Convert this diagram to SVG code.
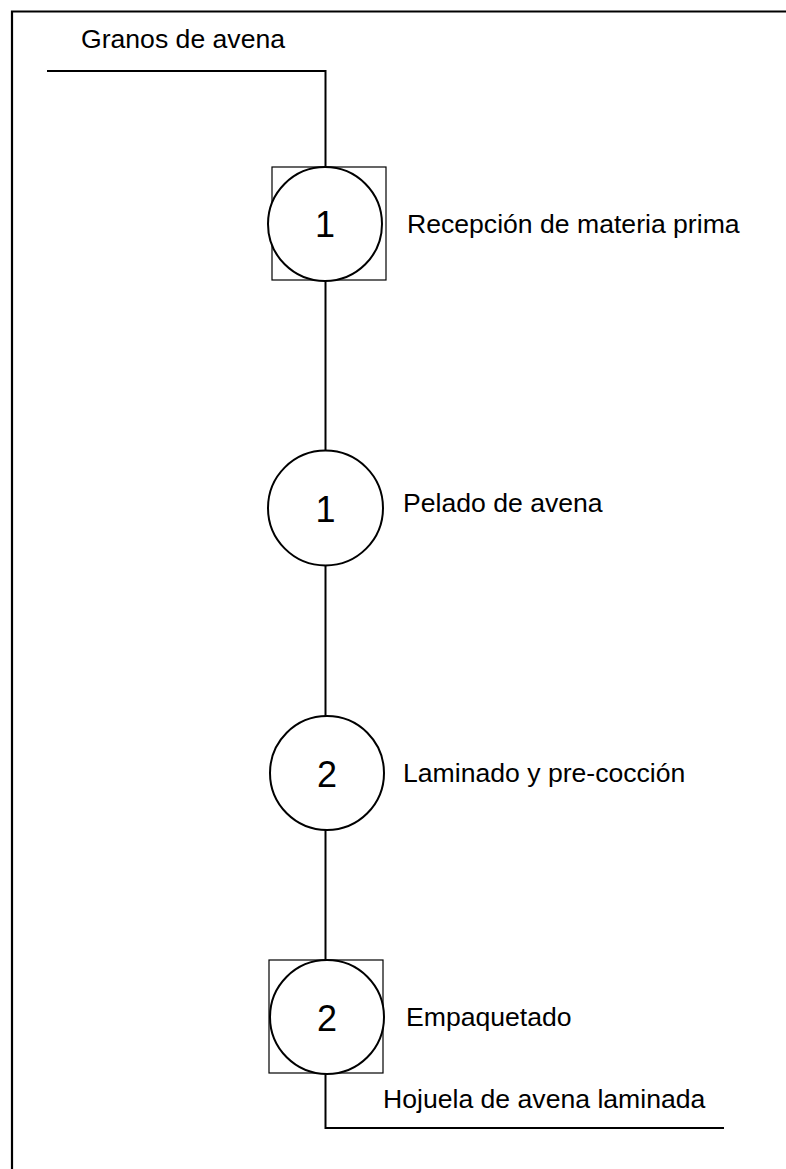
<svg xmlns="http://www.w3.org/2000/svg" width="786" height="1169" viewBox="0 0 786 1169">
<style>
.t{font-family:"Liberation Sans",Arial,sans-serif;font-size:26.6px;fill:#000}
.n{font-family:"Liberation Sans",Arial,sans-serif;font-size:36px;fill:#000;text-anchor:middle}
.c{fill:#fff;stroke:#000;stroke-width:2}
.b{fill:none;stroke:#000;stroke-width:1.2}
.l{fill:none;stroke:#000;stroke-width:2}
</style>
<rect width="786" height="1169" fill="#fff"/>
<path d="M12,1169 V11.5 H786" fill="none" stroke="#000" stroke-width="2.2"/>
<g id="connectors">
<path class="l" d="M47,71 H325.5 V167"/>
<path class="l" d="M325.5,280 V451"/>
<path class="l" d="M325.5,566 V716"/>
<path class="l" d="M325.5,830 V960"/>
<path class="l" d="M325.5,1074 V1128 H724"/>
</g>
<text class="t" x="81" y="48">Granos de avena</text>
<g id="n1">
<rect class="b" x="272" y="167" width="114" height="113"/>
<circle class="c" cx="325" cy="224" r="57"/>
<text class="n" x="325" y="237">1</text>
<text class="t" x="407" y="233">Recepción de materia prima</text>
</g>
<g id="n2">
<circle class="c" cx="325.5" cy="508" r="57.5"/>
<text class="n" x="325.5" y="522">1</text>
<text class="t" x="403" y="512">Pelado de avena</text>
</g>
<g id="n3">
<circle class="c" cx="327" cy="773" r="57"/>
<text class="n" x="327" y="787">2</text>
<text class="t" x="403" y="782">Laminado y pre-cocción</text>
</g>
<g id="n4">
<rect class="b" x="269" y="960" width="114" height="113"/>
<circle class="c" cx="327" cy="1017" r="57"/>
<text class="n" x="327" y="1031">2</text>
<text class="t" x="406" y="1026">Empaquetado</text>
</g>
<text class="t" x="383" y="1108">Hojuela de avena laminada</text>
</svg>
